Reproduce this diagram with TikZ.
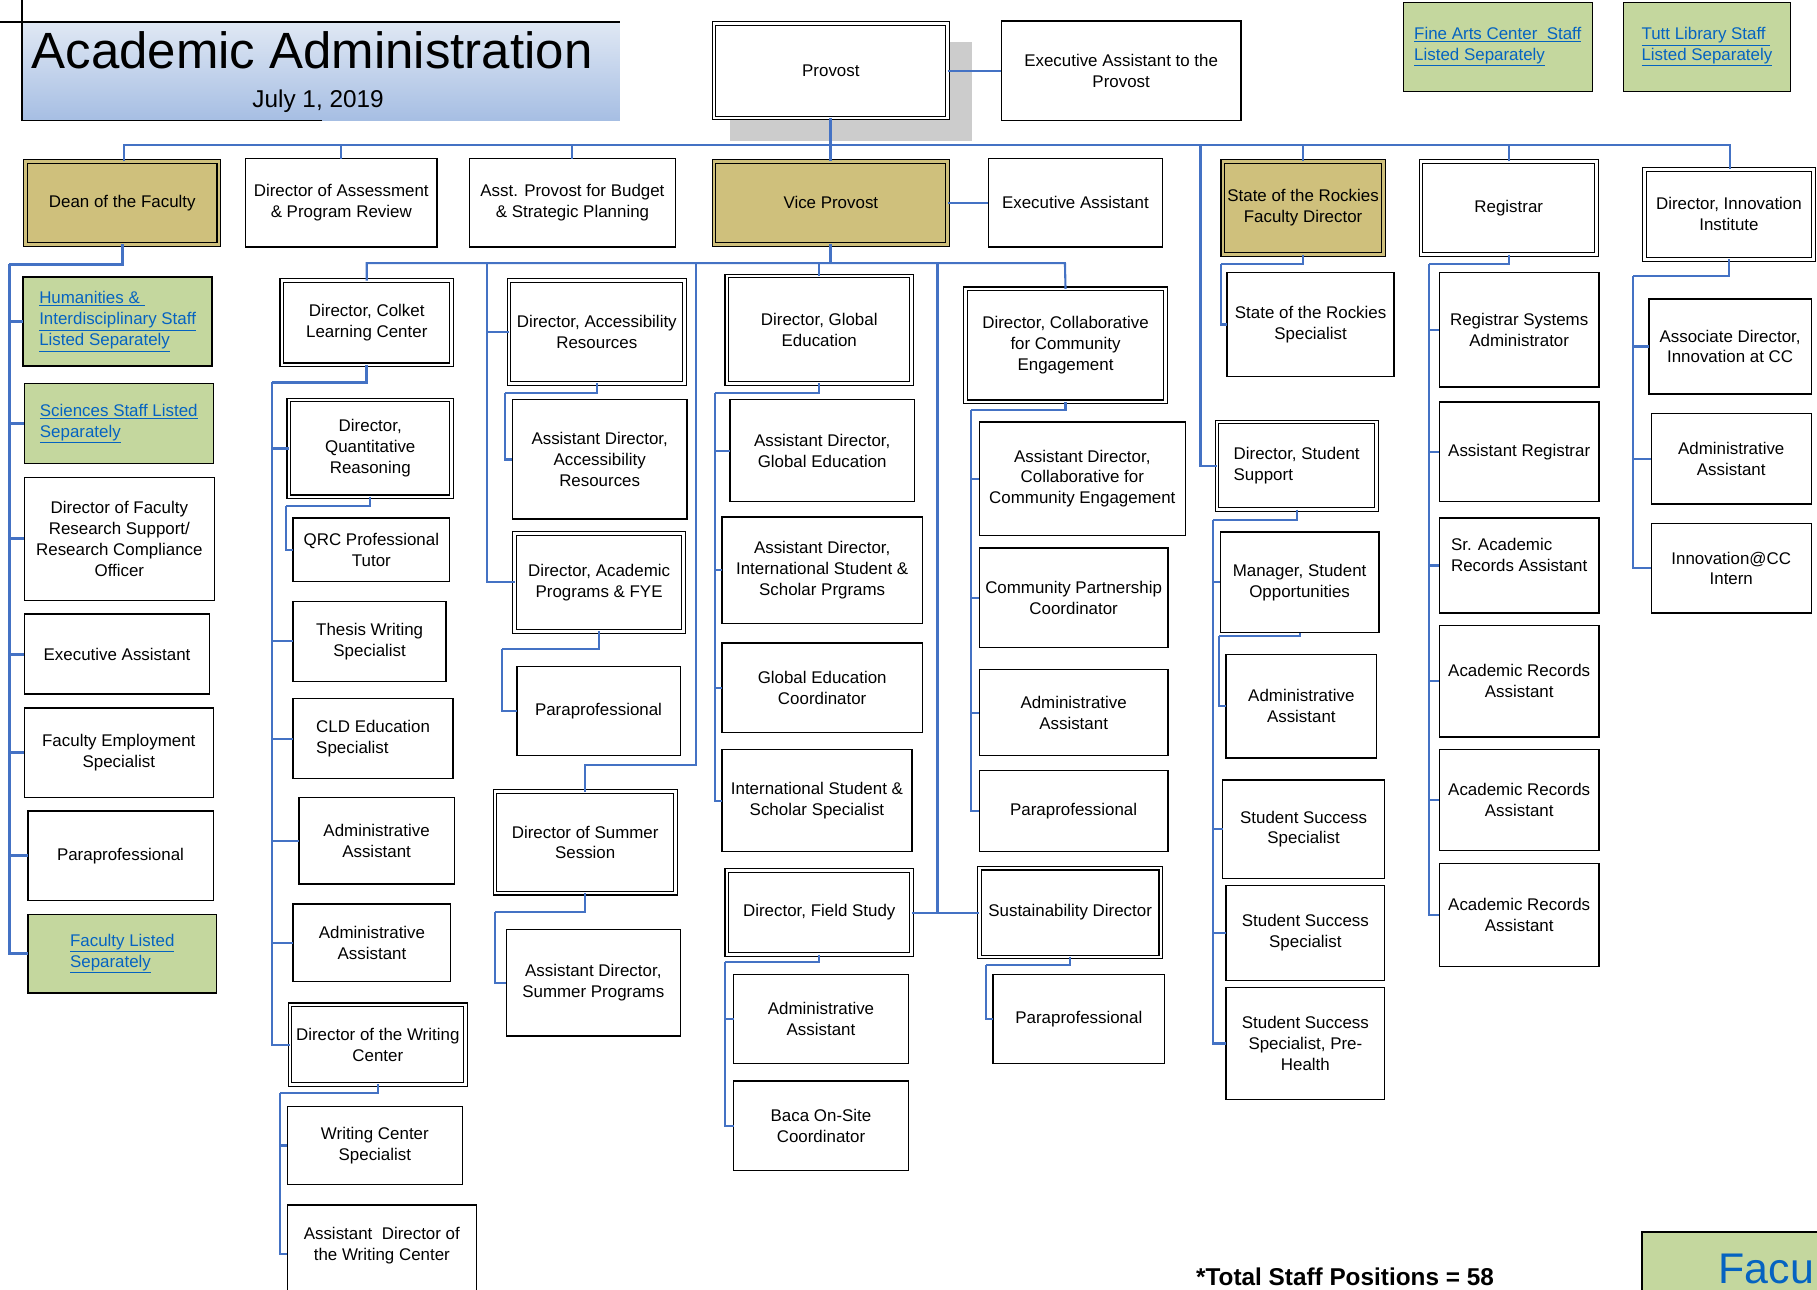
\documentclass[tikz,border=0pt]{standalone}
\usepackage{fontspec}
\setmainfont{Liberation Sans}
\usetikzlibrary{calc}
\definecolor{connc}{RGB}{68,114,196}
\definecolor{goldf}{RGB}{207,192,124}
\definecolor{greenf}{RGB}{196,215,158}
\definecolor{linkc}{RGB}{5,99,193}
\definecolor{ttop}{RGB}{224,232,244}
\definecolor{tbot}{RGB}{166,190,227}
\definecolor{shadowc}{RGB}{204,204,204}
\newcommand\ul[1]{\underline{#1}}
\newcommand\mybox[7]{%
  \pgfmathsetmacro\cxx{(#3+#5)/2}\pgfmathsetmacro\cyy{(#4+#6)/2}%
  \pgfmathsetmacro\ww{#5-#3}\pgfmathsetmacro\hh{#6-#4}%
  \node[#1, minimum width=\ww pt, minimum height=\hh pt] (#2) at (\cxx,\cyy) {#7};}
\newcommand\mydbox[7]{%
  \pgfmathsetmacro\cxx{(#3+#5)/2}\pgfmathsetmacro\cyy{(#4+#6)/2}%
  \pgfmathsetmacro\ww{#5-#3-4.4}\pgfmathsetmacro\hh{#6-#4-4.4}%
  \node[#1, minimum width=\ww pt, minimum height=\hh pt] (#2) at (\cxx,\cyy) {#7};}
\tikzset{
  base/.style={font=\fontsize{14.6}{18}\selectfont, align=center, inner sep=1pt, outer sep=0pt, text=black, rectangle},
  sbox/.style={base, draw=black, line width=1.2pt, fill=white},
  dwbox/.style={base, draw=black, line width=1pt, double=white, double distance=2.2pt, fill=white},
  dgbox/.style={base, draw=black, line width=1pt, double=goldf, double distance=2.2pt, fill=goldf},
  gbox/.style={base, draw=black, line width=1.2pt, fill=greenf, text=linkc, align=left},
  conn/.style={draw=connc, line width=1.8pt},
  tconn/.style={draw=connc, line width=2.6pt},
}
\begin{document}
\begin{tikzpicture}[x=1pt,y=-1pt]
\useasboundingbox (0,0) rectangle (1568,1113);
\clip (0,0) rectangle (1568,1113);
\fill[white] (0,0) rectangle (1568,1113);

% ---------- title ----------
\fill[top color=ttop, bottom color=tbot] (19,19) rectangle (535,104);
\draw[black, line width=1.2pt] (0,19) -- (535,19);
\draw[black, line width=1.2pt] (19,0) -- (19,104) -- (278,104);
\node[anchor=base west, inner sep=0pt, font=\fontsize{44}{50}\selectfont] (title) at (27,59) {Academic Administration};
\node[anchor=base, inner sep=0pt, font=\fontsize{21}{24}\selectfont] (date) at (274.5,93) {July 1, 2019};

% ---------- top ----------
\fill[shadowc] (630,36) rectangle (839,122);
\mydbox{dwbox}{Provost}{614}{18}{820}{104}{Provost}
\mybox{sbox}{EAP}{864}{18}{1071}{104}{Executive Assistant to the\\Provost}
\mybox{gbox}{FineArts}{1211}{2}{1374}{79}{\ul{Fine Arts Center~~Staff}\\\ul{Listed Separately}}
\mybox{gbox}{Tutt}{1401}{2}{1545}{79}{\ul{Tutt Library Staff\ }\\\ul{Listed Separately}}

% ---------- level 1 ----------
\mydbox{dgbox}{Dean}{20}{137}{191}{213}{Dean of the Faculty}
\mybox{sbox}{Assess}{212}{137}{377}{213}{Director of Assessment\\\& Program Review}
\mybox{sbox}{Budget}{405}{137}{583}{213}{Asst. Provost for Budget\\\& Strategic Planning}
\mydbox{dgbox}{VP}{614}{137}{820}{213}{Vice Provost}
\mybox{sbox}{EAVP}{853}{137}{1003}{213}{Executive Assistant}
\mydbox{dgbox}{SOR}{1053}{137}{1196}{222}{State of the Rockies\\Faculty Director}
\mydbox{dwbox}{Registrar}{1224}{137}{1380}{222}{Registrar}
\mydbox{dwbox}{Innov}{1417}{144}{1567}{226}{Director, Innovation\\Institute}

% ---------- Dean column ----------
\mybox{gbox}{Hum}{20}{239}{183}{316}{\ul{Humanities \&\ }\\\ul{Interdisciplinary Staff}\\\ul{Listed Separately}}
\mybox{gbox}{Sci}{21}{331}{184}{400}{\ul{Sciences Staff Listed}\\\ul{Separately}}
\mybox{sbox}{FacRes}{21}{412}{185}{518}{Director of Faculty\\Research Support/\\Research Compliance\\Officer}
\mybox{sbox}{ExecDean}{21}{530}{181}{599}{Executive Assistant}
\mybox{sbox}{FacEmp}{21}{611}{184}{688}{Faculty Employment\\Specialist}
\mybox{sbox}{ParaDean}{24}{700}{184}{777}{Paraprofessional}
\mybox{gbox}{FacList}{24}{789}{187}{857}{\ul{Faculty Listed}\\\ul{Separately}}

% ---------- Colket column ----------
\mydbox{dwbox}{Colket}{241}{240}{392}{317}{Director, Colket\\Learning Center}
\mydbox{dwbox}{Quant}{247}{343}{392}{431}{Director,\\Quantitative\\Reasoning}
\mybox{sbox}{QRC}{253}{447}{388}{502}{QRC Professional\\Tutor}
\mybox{sbox}{Thesis}{253}{519}{385}{588}{Thesis Writing\\Specialist}
\mybox{sbox, align=left}{CLD}{253}{603}{391}{672}{CLD Education\\Specialist}
\mybox{sbox}{AdminCA}{258}{688}{392}{763}{Administrative\\Assistant}
\mybox{sbox}{AdminCB}{253}{780}{389}{847}{Administrative\\Assistant}
\mydbox{dwbox}{Writing}{248}{865}{404}{938}{Director of the Writing\\Center}
\mybox{sbox}{WCSpec}{248}{955}{399}{1022}{Writing Center\\Specialist}
\mybox{sbox}{AsstWC}{248}{1040}{411}{1125}{Assistant~~Director of\\the Writing Center\\\mbox{}}

% ---------- Accessibility / Summer ----------
\mydbox{dwbox}{Access}{437}{240}{593}{333}{Director, Accessibility\\Resources}
\mybox{sbox}{AsstAccess}{442}{345}{593}{448}{Assistant Director,\\Accessibility\\Resources}
\mydbox{dwbox}{AcadProg}{442}{458}{592}{547}{Director, Academic\\Programs \& FYE}
\mybox{sbox}{ParaAcad}{446}{575}{587}{652}{Paraprofessional}
\mydbox{dwbox}{Summer}{425}{681}{585}{773}{Director of Summer\\Session}
\mybox{sbox}{AsstSummer}{437}{802}{587}{894}{Assistant Director,\\Summer Programs}

% ---------- Global / Field ----------
\mydbox{dwbox}{Global}{625}{236}{789}{333}{Director, Global\\Education}
\mybox{sbox}{AsstGlobal}{630}{345}{789}{433}{Assistant Director,\\Global Education}
\mybox{sbox}{AsstIntl}{623}{446}{796}{538}{Assistant Director,\\International Student \&\\Scholar Prgrams}
\mybox{sbox}{GECoord}{623}{555}{796}{632}{Global Education\\Coordinator}
\mybox{sbox}{IntlSpec}{623}{647}{787}{735}{International Student \&\\Scholar Specialist}
\mydbox{dwbox}{Field}{625}{749}{789}{826}{Director, Field Study}
\mybox{sbox}{AdminF}{633}{841}{784}{918}{Administrative\\Assistant}
\mybox{sbox}{Baca}{633}{933}{784}{1010}{Baca On-Site\\Coordinator}

% ---------- Collaborative / Sustainability ----------
\mydbox{dwbox}{Collab}{831}{247}{1008}{349}{Director, Collaborative\\for Community\\Engagement}
\mybox{sbox}{AsstCollab}{845}{364}{1023}{462}{Assistant Director,\\Collaborative for\\Community Engagement}
\mybox{sbox}{CommPart}{845}{473}{1008}{559}{Community Partnership\\Coordinator}
\mybox{sbox}{AdminCo}{845}{578}{1008}{652}{Administrative\\Assistant}
\mybox{sbox}{ParaCo}{845}{665}{1008}{735}{Paraprofessional}
\mydbox{dwbox}{Sustain}{843}{747}{1004}{828}{Sustainability Director}
\mybox{sbox}{ParaSus}{857}{841}{1005}{918}{Paraprofessional}

% ---------- Rockies / Student Support ----------
\mybox{sbox}{SORSpec}{1059}{235}{1203}{325}{State of the Rockies\\Specialist}
\mydbox{dwbox, align=left}{StuSup}{1048}{362}{1190}{442}{Director, Student\\Support}
\mybox{sbox}{Manager}{1053}{459}{1190}{546}{Manager, Student\\Opportunities}
\mybox{sbox}{AdminSS}{1058}{565}{1188}{654}{Administrative\\Assistant}
\mybox{sbox}{SSSA}{1055}{673}{1195}{758}{Student Success\\Specialist}
\mybox{sbox}{SSSB}{1058}{764}{1195}{846}{Student Success\\Specialist}
\mybox{sbox}{SSSC}{1058}{852}{1195}{949}{Student Success\\Specialist, Pre-\\Health}

% ---------- Registrar ----------
\mybox{sbox}{RegSys}{1242}{235}{1380}{334}{Registrar Systems\\Administrator}
\mybox{sbox}{AsstReg}{1242}{347}{1380}{433}{Assistant Registrar}
\mybox{sbox, align=left}{SrAcad}{1242}{447}{1380}{529}{Sr. Academic\\Records Assistant\\\mbox{}}
\mybox{sbox}{ARAA}{1242}{540}{1380}{636}{Academic Records\\Assistant}
\mybox{sbox}{ARAB}{1242}{647}{1380}{734}{Academic Records\\Assistant}
\mybox{sbox}{ARAC}{1242}{745}{1380}{834}{Academic Records\\Assistant}

% ---------- Innovation ----------
\mybox{sbox}{AssocInnov}{1423}{258}{1563}{340}{Associate Director,\\Innovation at CC}
\mybox{sbox}{AdminInnov}{1425}{357}{1563}{435}{Administrative\\Assistant}
\mybox{sbox}{Intern}{1425}{452}{1563}{529}{Innovation@CC\\Intern}

% ---------- footer ----------
\node[anchor=base west, inner sep=0pt, font=\bfseries\fontsize{21}{24}\selectfont] (total) at (1032,1109) {*Total Staff Positions = 58};
\draw[black, line width=1.2pt, fill=greenf] (1417,1063) rectangle (1600,1150);
\node[anchor=base west, inner sep=0pt, text=linkc, font=\fontsize{37}{42}\selectfont] (facu) at (1483,1108) {Facu};

% ---------- connectors: top ----------
\coordinate (busL) at (107,125);
\coordinate (busR) at (1493,125);
\draw[tconn] (Provost.south) -- (VP.north);
\draw[conn] (Provost.east) -- (EAP.west);
\draw[conn] (Dean.north -| busL) -- (busL) -- (busR) -- (Innov.north -| busR);
\draw[conn] (Assess.north) -- (Assess.north |- busL);
\draw[conn] (Budget.north) -- (Budget.north |- busL);
\draw[conn] (SOR.north) -- (SOR.north |- busL);
\draw[conn] (Registrar.north) -- (Registrar.north |- busL);
\draw[conn] (VP.east) -- (EAVP.west);
\coordinate (ssTop) at (1036,125);
\draw[conn] (ssTop) |- (StuSup.west);

% Dean
\coordinate (dS) at (8,228);
\draw[tconn] (Dean.south) |- (dS);
\foreach \n in {Hum,Sci,FacRes,ExecDean,FacEmp,ParaDean,FacList} \draw[tconn] (dS) |- (\n.west);

% Vice Provost bus
\coordinate (vbL) at (317,227);
\coordinate (vbR) at (919,227);
\draw[tconn] (VP.south) -- (VP.south |- vbL);
\draw[conn] (Colket.north) -- (Colket.north |- vbL) -- (vbR) -- (Collab.north);
\draw[conn] (Global.north) -- (Global.north |- vbL);

% Colket
\coordinate (cS) at (235,330);
\draw[tconn] (Colket.south) |- (cS);
\foreach \n in {Quant,Thesis,CLD,AdminCA,AdminCB,Writing} \draw[conn] (cS) |- (\n.west);
\coordinate (qS) at (247,437);
\draw[conn] (Quant.south) |- (qS);
\draw[conn] (qS) |- (QRC.west);
\coordinate (wS) at (242,943);
\draw[conn] (Writing.south) |- (wS);
\draw[conn] (wS) |- (WCSpec.west);
\draw[conn] (wS) |- (AsstWC.west);

% Accessibility
\coordinate (aTop) at (420,227);
\draw[conn] (aTop) |- (Access.west);
\draw[conn] (aTop) |- (AcadProg.west);
\coordinate (acS) at (436,339);
\draw[conn] (Access.south) |- (acS);
\draw[conn] (acS) |- (AsstAccess.west);
\coordinate (apS) at (433,560);
\draw[conn] (AcadProg.south) |- (apS);
\draw[conn] (apS) |- (ParaAcad.west);

% Summer
\coordinate (sumTop) at (601,227);
\coordinate (sumK) at (601,660);
\draw[conn] (sumTop) -- (sumK) -| (Summer.north);
\coordinate (smS) at (427,787);
\draw[conn] (Summer.south) |- (smS);
\draw[conn] (smS) |- (AsstSummer.west);

% Global
\coordinate (gS) at (617,339);
\draw[conn] (Global.south) |- (gS);
\foreach \n in {AsstGlobal,AsstIntl,GECoord,IntlSpec} \draw[conn] (gS) |- (\n.west);

% Field / Sustainability
\coordinate (fsTop) at (809,227);
\draw[conn] (fsTop) |- (Field.east);
\draw[conn] (Field.east) -- (Sustain.west);
\coordinate (fS) at (626,830);
\draw[conn] (Field.south) |- (fS);
\draw[conn] (fS) |- (AdminF.west);
\draw[conn] (fS) |- (Baca.west);
\coordinate (suS) at (851,833);
\draw[conn] (Sustain.south) |- (suS);
\draw[conn] (suS) |- (ParaSus.west);

% Collaborative
\coordinate (coS) at (838,354);
\draw[conn] (Collab.south) |- (coS);
\foreach \n in {AsstCollab,CommPart,AdminCo,ParaCo} \draw[conn] (coS) |- (\n.west);

% Rockies
\coordinate (soS) at (1054,228);
\draw[conn] (SOR.south) |- (soS);
\draw[conn] (soS) |- (SORSpec.west);

% Student Support
\coordinate (stS) at (1047,449);
\draw[conn] (StuSup.south) |- (stS);
\foreach \n in {Manager,SSSA,SSSB,SSSC} \draw[conn] (stS) |- (\n.west);
\coordinate (mS) at (1052,549);
\draw[conn] (Manager.south) |- (mS);
\draw[conn] (mS) |- (AdminSS.west);

% Registrar
\coordinate (rS) at (1233,228);
\draw[conn] (Registrar.south) |- (rS);
\foreach \n in {RegSys,AsstReg,SrAcad,ARAA,ARAB,ARAC} \draw[conn] (rS) |- (\n.west);

% Innovation
\coordinate (iS) at (1409,238);
\draw[conn] (Innov.south) |- (iS);
\foreach \n in {AssocInnov,AdminInnov,Intern} \draw[conn] (iS) |- (\n.west);
\end{tikzpicture}
\end{document}
